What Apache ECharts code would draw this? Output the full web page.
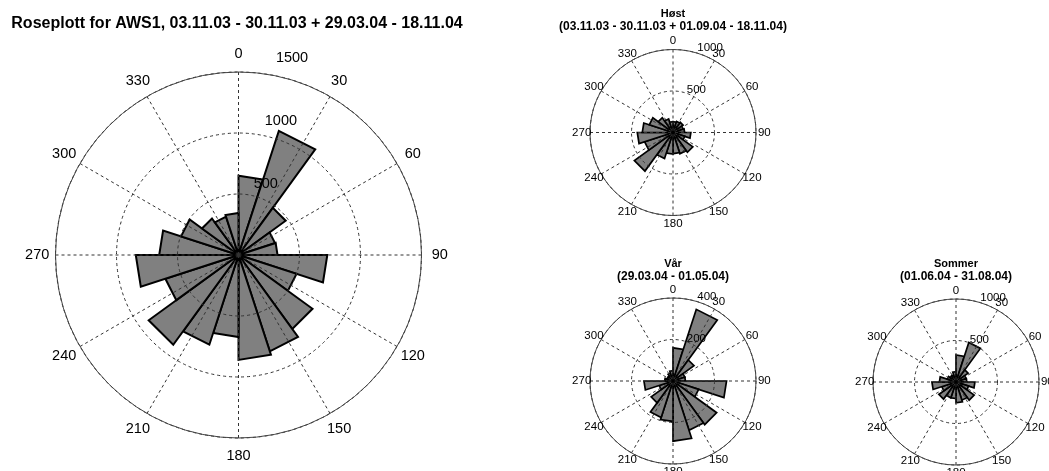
<!DOCTYPE html>
<html>
<head>
<meta charset="utf-8">
<script src="https://cdn.jsdelivr.net/npm/echarts@6/dist/echarts.min.js"></script>
<style>
html,body{margin:0;padding:0;background:#fff;}
#chart{width:1049px;height:471px;}
</style>
</head>
<body>
<div id="chart"></div>
<script>
// ---- data ----
const binStarts = [0,18,36,54,72,90,108,126,144,162,180,198,216,234,252,270,288,306,324,342];
const binWidth = 18;
const angleTicks = [0,30,60,90,120,150,180,210,240,270,300,330];

const mainTitle = 'Roseplott for AWS1, 03.11.03 - 30.11.03 + 29.03.04 - 18.11.04';
const allValues    = [650,1070,478,315,320,728,500,750,830,860,672,773,910,630,842,650,495,370,330,345];
const allRadial    = [500,1000,1500];

const hostTitle    = ['Høst','(03.11.03 - 30.11.03 + 01.09.04 - 18.11.04)'];
const hostValues   = [130,140,150,130,140,215,150,295,270,255,260,330,575,360,430,370,300,220,170,130];
const hostRadial   = [500,1000];

const varTitle     = ['Vår','(29.03.04 - 01.05.04)'];
const varValues    = [160,363,125,60,60,258,130,260,250,290,195,185,130,70,140,40,30,30,40,50];
const varRadial    = [200,400];

const sommerTitle  = ['Sommer','(01.06.04 - 31.08.04)'];
const sommerValues = [325,500,180,130,130,228,160,270,230,250,200,200,255,180,290,200,110,90,90,125];
const sommerRadial = [500,1000];

// ---- layout ----
const FONT = '"Liberation Sans", Arial, Helvetica, sans-serif';
const plots = [
  {values: allValues,    radial: allRadial,    rmax: 1500, center: [238.5,255], r: 183, lw: 2,   fs: 14.5, big: true},
  {values: hostValues,   radial: hostRadial,   rmax: 1000, center: [673,132.5], r: 83,  lw: 1.7, fs: 11.5},
  {values: varValues,    radial: varRadial,    rmax: 400,  center: [673,381],   r: 83,  lw: 1.7, fs: 11.5},
  {values: sommerValues, radial: sommerRadial, rmax: 1000, center: [956,382],   r: 83,  lw: 1.7, fs: 11.5}
];

const gridStyle = {color:'#333', width:1, type:[3,3]};

const option = {
  backgroundColor:'#fff',
  animation:false,
  polar: plots.map(p => ({center: p.center, radius: [0, p.r]})),
  angleAxis: plots.map((p,i) => ({
    polarIndex: i, type:'value', min:0, max:360, interval:30, startAngle:90, clockwise:true, z:3,
    axisLine:{show:true, lineStyle:{color:'#444', width:1}},
    axisTick:{show:false}, axisLabel:{show:false},
    splitLine:{show:true, lineStyle:gridStyle}
  })),
  radiusAxis: plots.map((p,i) => ({
    polarIndex: i, type:'value', min:0, max:p.rmax, interval:p.radial[0], z:3,
    axisLine:{show:false}, axisTick:{show:false}, axisLabel:{show:false},
    splitLine:{show:true, lineStyle:gridStyle}
  })),
  series: [],
  graphic: []
};

plots.forEach((p,i) => {
  // wedges
  option.series.push({
    type:'custom', coordinateSystem:'polar', polarIndex:i, z:1, silent:true,
    data: p.values.map((v,k) => [v, binStarts[k]]),
    renderItem: (params, api) => {
      const r = api.value(0), a0 = api.value(1), a1 = a0 + binWidth;
      const c = api.coord([0, a0]);
      const p1 = api.coord([r, a0]);
      const p2 = api.coord([r, a1]);
      return {type:'polygon', shape:{points:[c,p1,p2]},
        style:{fill:'#808080', stroke:'#000', lineWidth:p.lw, lineJoin:'miter'}};
    }
  });
  // angle labels
  option.series.push({
    type:'custom', coordinateSystem:'polar', polarIndex:i, z:5, silent:true,
    data: angleTicks.map(a => [p.rmax*1.1, a]),
    renderItem: (params, api) => {
      const pt = api.coord([api.value(0), api.value(1)]);
      return {type:'text', x:pt[0], y:pt[1],
        style:{text:String(angleTicks[params.dataIndex]), fill:'#000',
          font: p.fs + 'px ' + FONT, align:'center', verticalAlign:'middle',
          textAlign:'center', textVerticalAlign:'middle'}};
    }
  });
  // radial labels
  option.series.push({
    type:'custom', coordinateSystem:'polar', polarIndex:i, z:4, silent:true,
    data: p.radial.map(v => [v*1.05, p.big ? 10 : 14]),
    renderItem: (params, api) => {
      const pt = api.coord([api.value(0), api.value(1)]);
      const va = p.big ? 'bottom' : 'middle';
      return {type:'text', x:pt[0], y:pt[1],
        style:{text:' ' + p.radial[params.dataIndex], fill:'#000',
          font: p.fs + 'px ' + FONT, align:'left', verticalAlign:va,
          textAlign:'left', textVerticalAlign:va}};
    }
  });
});

function title(text, x, y, size) {
  return {type:'text', x:x, y:y, silent:true,
    style:{text:text, fill:'#000', font:'bold ' + size + 'px ' + FONT,
      align:'center', verticalAlign:'middle', textAlign:'center', textVerticalAlign:'middle'}};
}
option.graphic.push(title(mainTitle, 237, 24, 16));
option.graphic.push(title(hostTitle[0], 673, 14, 11));
option.graphic.push(title(hostTitle[1], 673, 27, 12));
option.graphic.push(title(varTitle[0], 673, 263.5, 11));
option.graphic.push(title(varTitle[1], 673, 277, 12));
option.graphic.push(title(sommerTitle[0], 956, 264, 11));
option.graphic.push(title(sommerTitle[1], 956, 277, 12));

const chart = echarts.init(document.getElementById('chart'), null, {renderer:'canvas'});
chart.setOption(option);
</script>
</body>
</html>
